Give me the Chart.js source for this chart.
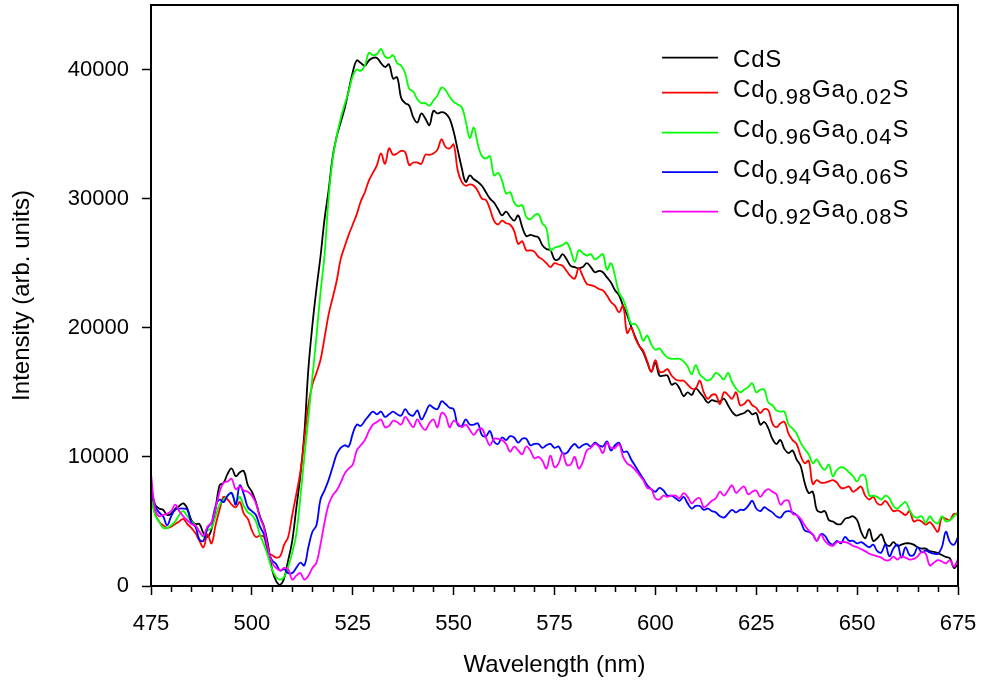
<!DOCTYPE html>
<html>
<head>
<meta charset="utf-8">
<script src="https://cdn.jsdelivr.net/npm/chart.js@4.4.1/dist/chart.umd.min.js"></script>
<style>
html,body{margin:0;padding:0;background:#fff;}
canvas{display:block;}
</style>
</head>
<body>
<canvas id="c" width="984" height="689"></canvas>
<script>
// Wavelength categories (nm), 1 nm steps from 475 to 675
const wavelengths = Array.from({length: 201}, (_, i) => 475 + i);

const cdS = [
7700,6300,6000,5900,5500,5600,6000,6200,6400,6000,
5100,4800,4800,4100,3800,4400,6000,7800,8000,8700,
9100,8500,8800,8900,7800,7300,6500,5400,4600,3200,
1300,400,100,600,2000,3500,6000,8500,11800,16800,
20200,23000,25500,28400,30600,33200,34800,35900,37000,38400,
39800,40700,40500,40300,40700,40900,40900,40500,40200,40400,
39300,39400,37800,37400,37200,36300,35900,36600,36200,35700,
36800,36600,36700,36600,36200,35200,33800,32400,31300,31800,
31500,31300,31000,30500,30000,29700,29200,28700,29000,28600,
28300,28700,27800,27100,27200,27100,27000,26400,26100,26000,
25300,25300,25700,25300,24800,24700,24600,24700,25000,24700,
24300,24400,24300,23900,23500,22900,22500,21700,21000,20100,
19300,18600,18100,17300,16600,17300,16300,16300,16300,15600,
15700,15300,14700,15000,14800,15300,15000,14600,14200,14400,
14300,14300,14500,14000,13500,13200,13300,13400,13600,13300,
13400,12500,12700,12200,11400,11000,11300,10600,10300,10500,
9800,9300,8000,7200,7300,5900,5700,5800,5100,5000,
4800,4800,5200,5300,5400,5100,4200,3700,4400,3500,
3700,4000,3300,3100,3400,3100,3200,3300,3300,3200,
3000,2900,2900,2700,2650,2550,2400,2250,2150,1400,
1750];

const ga002 = [
7000,5600,5000,4700,4500,4600,4800,5000,5200,4800,
4500,4100,3500,3000,4000,3300,4700,5900,6900,6700,
6300,6100,6500,5600,5200,4300,3800,3900,3800,2600,
2400,2200,2300,3200,3800,5500,7100,8800,11300,14000,
15600,16500,17500,19200,21000,22300,23600,25300,26300,27200,
28000,28800,29800,30500,31400,32000,32600,33500,32700,33900,
33400,33500,33700,33600,32600,32800,32800,32700,33400,33400,
33500,33800,34600,34000,33900,34200,32200,31300,31000,31100,
31000,30600,30000,29900,29200,28300,28000,28300,28100,28000,
27500,26500,26700,26000,26000,25900,25500,25300,25000,24700,
25000,24900,24800,24400,24000,23800,24600,24000,23400,23300,
23200,23000,22900,22500,22000,21700,21200,21700,19600,20000,
19200,18600,18200,17400,16600,17500,16600,16600,16800,16300,
16000,15900,15900,15600,15300,15300,15900,15000,14500,14800,
14800,14100,15000,14800,14500,15000,14000,14100,14400,14000,
13800,13400,13700,13600,12600,12300,12600,12700,11800,11300,
11000,10100,9500,9700,7900,8200,8000,8000,8100,8200,
8000,7600,7600,7700,7300,7500,7700,7000,6700,6900,
6400,6300,6600,6200,5800,5850,5700,5500,5800,5000,
5100,5000,4750,4950,4600,4200,5300,5200,5100,5600,
5500];

const ga004 = [
7000,5500,5000,4500,4500,4700,5000,5500,5800,5400,
5000,4700,4200,3800,4300,4500,5400,6300,6700,7000,
7200,6500,6900,6200,5700,5500,5000,4000,3200,2300,
1300,700,500,700,1500,2600,4000,6800,10000,13000,
16200,19300,22700,25600,30000,33000,34800,36200,37300,38300,
39500,40000,39900,40300,41300,41100,41200,41600,41000,40900,
41100,40500,40300,39700,38500,38300,37700,37400,37400,37200,
37600,38000,38600,38400,37900,37500,37300,37100,36000,34700,
35500,34200,33300,33100,33300,31800,32000,31400,30400,30500,
29700,29400,29500,28600,28400,28700,28800,28100,27700,26000,
26200,26300,26400,26600,26000,25100,26000,25800,25600,25700,
25300,25500,25700,24500,25000,24000,22700,22200,21300,20300,
20300,19800,19000,19400,18700,18300,18400,18000,17700,17600,
17600,17600,17400,17000,16400,17100,16400,16100,15900,16100,
16500,16300,16000,16500,15800,15300,15000,15200,15400,15700,
15000,15200,15200,14200,14000,13600,13500,13500,12500,12200,
11800,11100,10600,10200,9500,9800,9300,9000,9400,8500,
9000,9200,9100,8800,8500,8100,8600,8500,7000,7000,
6900,6700,7000,6800,6200,6000,6300,6500,5900,5400,
5300,5400,4900,5400,5000,4850,5400,5000,5100,5400,
5750];

const ga006 = [
7400,6200,5700,5400,4700,5400,5900,6000,6000,5900,
4900,4600,3600,3500,4500,4900,6200,6700,6500,7000,
7200,6300,7800,7100,6100,5800,5500,4600,4000,2800,
2000,1700,1200,1300,1000,1000,1400,1800,1600,3000,
4200,4700,6700,7400,8200,9200,10200,10700,10900,10800,
11800,12500,12400,12800,13200,13500,13300,13500,13100,13300,
13500,13300,13200,13700,13300,13200,13600,12900,13400,14000,
13800,13700,14300,14100,13800,13700,12500,12400,12900,12500,
12500,12600,11700,11600,12000,11200,11000,11500,11300,11600,
11500,11100,11400,11400,10900,11000,11000,10700,10900,11000,
10700,10800,10300,10300,10700,11000,10700,10900,11000,10800,
11100,10900,10800,11200,10500,10900,11100,10400,10400,9800,
9300,8800,8300,7800,7500,7300,7600,7400,7000,7000,
6800,6600,6900,6400,6000,6200,6200,5900,6000,5800,
5700,5400,5300,5600,5900,5700,5900,5900,6200,6600,
6000,5800,6100,5900,5700,5400,5300,5700,5800,5700,
5500,5000,4300,4200,4000,3500,4000,3900,3400,3200,
3500,3300,3800,3500,3500,3300,3400,3200,3000,3200,
2700,2600,3200,2300,2900,3200,2200,3000,2400,2400,
3000,2600,2750,2600,2500,2500,3000,4200,3400,3200,
3800];

const ga008 = [
8700,6000,5400,5500,5600,5800,6300,5800,5400,5100,
4800,4700,4200,3900,4600,4900,6000,7300,8000,8100,
8300,7500,7700,7400,7300,7000,6400,5300,4500,2900,
1800,1400,1200,1400,1300,500,800,1000,500,800,
1400,1800,3200,4900,6300,7000,7400,8000,8700,9100,
9400,10500,10900,11300,12000,12500,12700,12900,12300,12400,
12800,12700,12500,13100,12700,12300,12900,12400,12100,12600,
12900,12300,13400,13200,12300,12800,12600,12300,12500,12100,
11700,12100,12200,11500,10900,11400,11400,11300,11000,10400,
10800,10500,10200,10800,10500,9900,10000,9700,9100,10100,
9200,9500,10300,9400,9400,10000,9100,9600,10500,10700,
11000,10800,10300,11100,10700,10700,11000,10000,9500,9300,
9000,8600,8200,7600,7500,6800,6700,7000,6900,7000,
7000,6800,7200,6900,6400,6700,6800,6100,6300,6600,
6800,7300,7000,7400,7800,7200,7500,7700,7100,7300,
7400,6900,7300,7500,7300,7100,6300,6600,6600,5600,
5500,5200,4700,4300,4000,3500,4000,3500,3200,3100,
3400,3400,3400,3300,3100,3000,2850,2700,2500,2400,
2300,2200,2000,2000,2270,2050,2300,2200,2050,2100,
2300,2650,2500,1600,1800,2000,1900,1750,2000,1500,
2100];

const seriesNames = ['CdS', 'Cd0.98Ga0.02S', 'Cd0.96Ga0.04S', 'Cd0.94Ga0.06S', 'Cd0.92Ga0.08S'];
// legend label parts: [text, isSubscript]
const legendParts = [
  [['CdS', false]],
  [['Cd', false], ['0.98', true], ['Ga', false], ['0.02', true], ['S', false]],
  [['Cd', false], ['0.96', true], ['Ga', false], ['0.04', true], ['S', false]],
  [['Cd', false], ['0.94', true], ['Ga', false], ['0.06', true], ['S', false]],
  [['Cd', false], ['0.92', true], ['Ga', false], ['0.08', true], ['S', false]]
];
const seriesColors = ['#000000', '#ff0000', '#00ff00', '#0000ff', '#ff00ff'];
const seriesValues = [cdS, ga002, ga004, ga006, ga008];
const yTickValues = [0, 10000, 20000, 30000, 40000];

const FONT = "'Liberation Sans', Arial, Helvetica, sans-serif";

const framePlugin = {
  id: 'frame',
  afterDraw(chart) {
    const ctx = chart.ctx;
    const a = chart.chartArea;
    const xs = chart.scales.x;
    ctx.save();
    // minor ticks on x axis every 5 nm
    ctx.strokeStyle = '#000';
    ctx.lineWidth = 1.5;
    ctx.beginPath();
    for (let v = 475; v <= 675; v += 5) {
      if ((v - 475) % 25 === 0) continue;
      const px = Math.round(xs.getPixelForValue(v)) + 0.5;
      ctx.moveTo(px, a.bottom);
      ctx.lineTo(px, a.bottom + 6);
    }
    ctx.stroke();
    // full frame
    ctx.lineWidth = 2;
    ctx.strokeRect(a.left, a.top, a.right - a.left, a.bottom - a.top);
    // legend
    const lineY = [57.7, 92.7, 132.7, 172.2, 211.7];
    const baseY = [66.7, 96.7, 136.7, 176.7, 216.7];
    for (let i = 0; i < legendParts.length; i++) {
      ctx.strokeStyle = seriesColors[i];
      ctx.lineWidth = 1.8;
      ctx.beginPath();
      ctx.moveTo(662, lineY[i]);
      ctx.lineTo(718, lineY[i]);
      ctx.stroke();
      let x = 733;
      ctx.fillStyle = '#000';
      ctx.textBaseline = 'alphabetic';
      ctx.textAlign = 'left';
      for (const [txt, sub] of legendParts[i]) {
        if (sub) {
          ctx.font = '22px ' + FONT;
          ctx.letterSpacing = '1px';
          ctx.fillText(txt, x, baseY[i] + 7.5);
        } else {
          ctx.font = '24px ' + FONT;
          ctx.letterSpacing = '0.8px';
          ctx.fillText(txt, x, baseY[i]);
        }
        x += ctx.measureText(txt).width;
      }
      ctx.letterSpacing = '0px';
    }
    ctx.restore();
  }
};

new Chart(document.getElementById('c'), {
  type: 'line',
  data: {
    labels: wavelengths,
    datasets: seriesValues.map((vals, i) => ({
      label: seriesNames[i],
      data: vals,
      borderColor: seriesColors[i],
      backgroundColor: seriesColors[i],
      borderWidth: 1.8,
      pointRadius: 0,
      tension: 0.4,
      fill: false,
      order: 5 - i
    }))
  },
  options: {
    responsive: false,
    animation: false,
    devicePixelRatio: 1,
    layout: { padding: { left: 0, right: 26, top: 5, bottom: 0 } },
    plugins: { legend: { display: false }, tooltip: { enabled: false } },
    scales: {
      x: {
        type: 'linear',
        min: 475,
        max: 675,
        ticks: {
          stepSize: 25,
          color: '#000',
          font: { family: FONT, size: 22 },
          padding: 16,
          maxRotation: 0,
          autoSkip: false
        },
        grid: { drawOnChartArea: false, drawTicks: true, tickLength: 9, tickColor: '#000', tickWidth: 1.5 },
        border: { display: true, color: '#000', width: 2 },
        title: {
          display: true,
          text: 'Wavelength (nm)',
          color: '#000',
          font: { family: FONT, size: 24 },
          padding: { top: 9, bottom: 9 }
        },
        afterFit(s) { s.height = 103; s.paddingLeft = 0; s.paddingRight = 0; }
      },
      y: {
        type: 'linear',
        min: 0,
        max: 45000,
        afterBuildTicks(s) { s.ticks = yTickValues.map(v => ({ value: v })); },
        ticks: {
          color: '#000',
          font: { family: FONT, size: 22 },
          padding: 13,
          callback: v => String(v)
        },
        grid: { drawOnChartArea: false, drawTicks: true, tickLength: 9, tickColor: '#000', tickWidth: 1.5 },
        border: { display: true, color: '#000', width: 2 },
        title: {
          display: true,
          text: 'Intensity (arb. units)',
          color: '#000',
          font: { family: FONT, size: 24 },
          padding: { top: 8, bottom: 8 }
        },
        afterFit(s) { s.width = 151; s.paddingTop = 0; s.paddingBottom = 0; }
      }
    }
  },
  plugins: [framePlugin]
});
</script>
</body>
</html>
